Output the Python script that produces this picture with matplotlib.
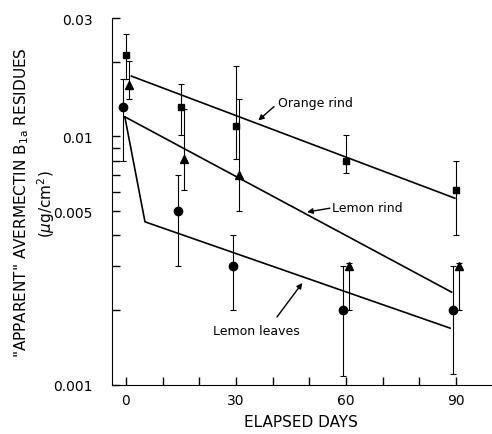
import numpy as np
import matplotlib.pyplot as plt
from matplotlib.ticker import FixedLocator, NullFormatter

# Дані
days = [0, 15, 30, 60, 90]

orange = [0.0212, 0.0131, 0.0110, 0.0080, 0.0061]
orange_hi = [0.0258, 0.0162, 0.0192, 0.0101, 0.0080]
orange_lo = [0.0170, 0.0101, 0.0081, 0.0071, 0.0040]

lemon_rind = [0.0161, 0.0081, 0.0070, 0.0030, 0.0030]
lemon_rind_hi = [0.0201, 0.0129, 0.0142, 0.0031, 0.0031]
lemon_rind_lo = [0.0141, 0.0061, 0.0050, 0.0020, 0.0020]

leaves = [0.0131, 0.0050, 0.0030, 0.0020, 0.0020]
leaves_hi = [0.0171, 0.0070, 0.0040, 0.0030, 0.0030]
leaves_lo = [0.0080, 0.0030, 0.0020, 0.00108, 0.0011]

# Лінії апроксимації
orange_fit_x = [1.5, 89.7]
orange_fit_y = [0.0175, 0.00564]
rind_fit_x = [-0.3, 88.8]
rind_fit_y = [0.0120, 0.00236]
leaves_fit_x = [-0.3, 5.2, 88.4]
leaves_fit_y = [0.0120, 0.00453, 0.00169]

yticks = [0.001, 0.005, 0.01, 0.03]
ytick_labels = ['0.001', '0.005', '0.01', '0.03']
yminor = [0.002, 0.003, 0.004, 0.006, 0.007, 0.008, 0.009, 0.02]


def draw_series(ax, x_shift, vals, lo, hi, marker, ms):
    x = np.array(days) + x_shift
    vals = np.array(vals)
    err = [vals - np.array(lo), np.array(hi) - vals]
    ax.errorbar(x, vals, yerr=err, fmt=marker, color='black', ms=ms,
                elinewidth=0.8, capsize=2.5, capthick=0.8, zorder=3)


fig = plt.figure(figsize=(4.92, 4.35), dpi=100)
ax = fig.add_axes([0.2276, 0.1133, 0.770, 0.843])
ax.set_yscale('log')

# Лінії
ax.plot(orange_fit_x, orange_fit_y, color='black', lw=1.2)
ax.plot(rind_fit_x, rind_fit_y, color='black', lw=1.2)
ax.plot(leaves_fit_x, leaves_fit_y, color='black', lw=1.2)

# Точки з похибками
draw_series(ax, 0.0, orange, orange_lo, orange_hi, 's', 5)
draw_series(ax, 0.9, lemon_rind, lemon_rind_lo, lemon_rind_hi, '^', 5.5)
draw_series(ax, -0.8, leaves, leaves_lo, leaves_hi, 'o', 6)

# Підписи зі стрілками
arrow = dict(arrowstyle='-|>', color='black', lw=1, mutation_scale=8,
             shrinkA=0, shrinkB=0)
ax.annotate('', xy=(36.1, 0.0116), xytext=(40.4, 0.0132), arrowprops=arrow)
ax.text(41.5, 0.01368, 'Orange rind', fontsize=9, va='center', ha='left')
ax.annotate('', xy=(49.4, 0.00496), xytext=(55.6, 0.00514), arrowprops=arrow)
ax.text(56.1, 0.00519, 'Lemon rind', fontsize=9, va='center', ha='left')
ax.annotate('', xy=(48.1, 0.00257), xytext=(41.2, 0.001875), arrowprops=arrow)
ax.text(23.8, 0.00165, 'Lemon leaves', fontsize=9, va='center', ha='left')

# Осі
ax.set_xlim(-3.8, 99.5)
ax.set_ylim(0.001, 0.03)
ax.spines['top'].set_visible(False)
ax.spines['right'].set_visible(False)

ax.yaxis.set_major_locator(FixedLocator(yticks))
ax.set_yticklabels(ytick_labels)
ax.yaxis.set_minor_locator(FixedLocator(yminor))
ax.yaxis.set_minor_formatter(NullFormatter())
ax.set_xticks([0, 30, 60, 90])
ax.set_xticks([10, 20, 40, 50, 70, 80], minor=True)

ax.tick_params(which='both', direction='in', length=6, width=1, labelsize=10)
ax.tick_params(axis='y', pad=14)
ax.tick_params(axis='x', pad=6)

ax.set_xlabel('ELAPSED DAYS', fontsize=11, labelpad=5)
fig.text(0.043, 0.535, '"APPARENT" AVERMECTIN B$_{\\mathrm{1a}}$ RESIDUES',
         rotation=90, fontsize=11, ha='center', va='center')
fig.text(0.094, 0.53, '($\\mu$g/cm$^2$)', rotation=90, fontsize=11,
         ha='center', va='center')

fig.savefig('out.png', dpi=100)
